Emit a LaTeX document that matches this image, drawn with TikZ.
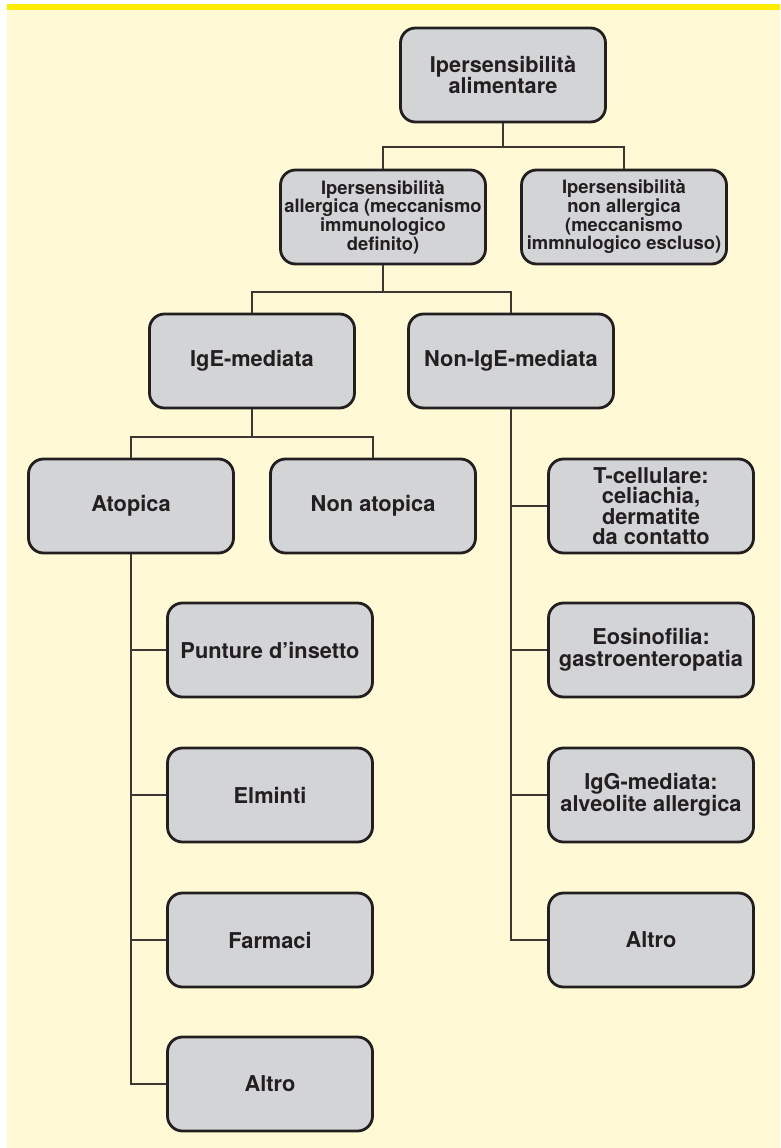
\documentclass[tikz,border=0pt]{standalone}
\usepackage{fontspec}
\setmainfont{TeX Gyre Heros}
\definecolor{cream}{RGB}{255,249,214}
\definecolor{topyellow}{rgb}{1,0.925,0}
\definecolor{boxgrey}{RGB}{211,212,214}
\definecolor{boxline}{RGB}{35,31,32}
\definecolor{conn}{RGB}{60,55,50}
\begin{document}
\begin{tikzpicture}[x=1pt,y=-1pt,
  cbox/.style={draw=boxline, line width=2.8pt, fill=boxgrey, rounded corners=15pt,
    minimum width=205pt, minimum height=94pt, inner sep=0pt, align=center,
    text=boxline, font=\fontsize{21.8}{21.8}\selectfont\bfseries},
  smalltext/.style={font=\fontsize{18.4}{18.7}\selectfont\bfseries},
  tighttext/.style={font=\fontsize{21.8}{20.3}\selectfont\bfseries},
  wide/.style={font=\fontsize{21.8}{22.2}\selectfont\bfseries},
  link/.style={draw=conn, line width=1.3pt}]
\useasboundingbox (0,0) rectangle (780,1148);
\fill[white] (0,0) rectangle (780,1148);
\fill[cream] (6.5,4) rectangle (780,1148);
\fill[topyellow] (6.5,4) rectangle (780,10);

\node[cbox, font=\fontsize{21.7}{21.7}\selectfont\bfseries] (top) at (503,75) {Ipersensibilità\\alimentare};
\node[cbox, smalltext] (alle) at (383,217) {Ipersensibilità\\allergica (meccanismo\\immunologico\\definito)};
\node[cbox, smalltext] (nona) at (624,217) {Ipersensibilità\\non allergica\\(meccanismo\\immnulogico escluso)};
\node[cbox] (ige) at (252,361) {IgE-mediata};
\node[cbox] (nonige) at (511,361) {Non-IgE-mediata};
\node[cbox] (atop) at (131,506) {Atopica};
\node[cbox] (nonatop) at (373,506) {Non atopica};
\node[cbox, tighttext] (tcell) at (651,506) {T-cellulare:\\celiachia,\\dermatite\\da contatto};
\node[cbox] (punt) at (270,650) {Punture d’insetto};
\node[cbox] (elm) at (270,795) {Elminti};
\node[cbox] (farm) at (270,940) {Farmaci};
\node[cbox] (altroL) at (270,1084) {Altro};
\node[cbox, wide] (eos) at (651,650) {Eosinofilia:\\gastroenteropatia};
\node[cbox, wide] (igg) at (651,795) {IgG-mediata:\\alveolite allergica};
\node[cbox] (altroR) at (651,940) {Altro};

\coordinate (j1) at (503,147);
\coordinate (j2) at (383,292);
\coordinate (j3) at (252,437);

\draw[link] (top.south) -- (j1);
\draw[link] (alle.north) |- (j1) -| (nona.north);
\draw[link] (alle.south) -- (j2);
\draw[link] (ige.north) |- (j2) -| (nonige.north);
\draw[link] (ige.south) -- (j3);
\draw[link] (atop.north) |- (j3) -| (nonatop.north);
\draw[link] (nonige.south) |- (altroR.west);
\draw[link] (tcell.west) -- (tcell.west -| nonige.south);
\draw[link] (eos.west) -- (eos.west -| nonige.south);
\draw[link] (igg.west) -- (igg.west -| nonige.south);
\draw[link] (atop.south) |- (altroL.west);
\draw[link] (punt.west) -- (punt.west -| atop.south);
\draw[link] (elm.west) -- (elm.west -| atop.south);
\draw[link] (farm.west) -- (farm.west -| atop.south);
\end{tikzpicture}
\end{document}
